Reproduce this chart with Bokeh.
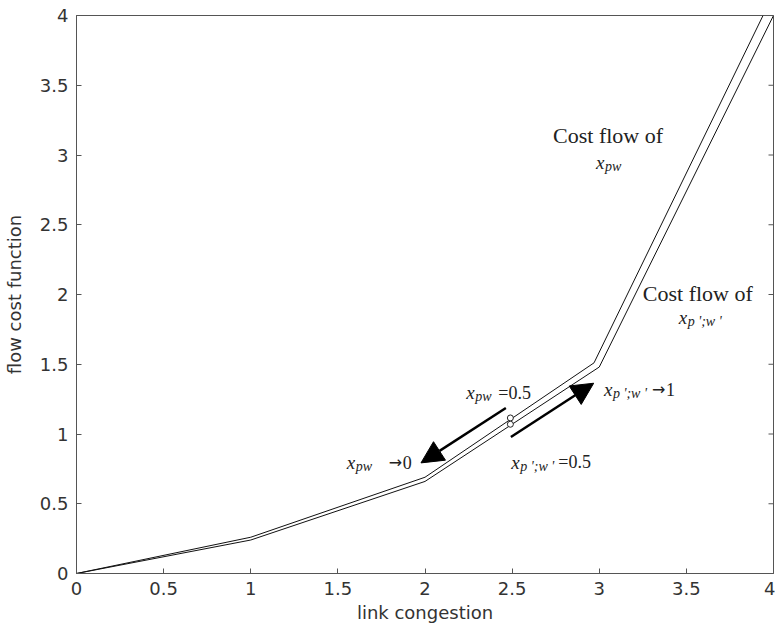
from bokeh.plotting import figure
from bokeh.models import Arrow, NormalHead, Range1d, FixedTicker
from bokeh.core.properties import value
from bokeh.embed import file_html
from bokeh.resources import INLINE

# ---- data ----
link_pw = [0, 1, 2, 2.97, 3.94]
cost_pw = [0, 0.26, 0.69, 1.51, 4.0]
link_ppww = [0, 1, 2, 3, 4]
cost_ppww = [0, 0.24, 0.66, 1.48, 4.0]
eq_link = [2.49, 2.49]
eq_cost = [1.115, 1.07]
tick_vals = [0, 0.5, 1, 1.5, 2, 2.5, 3, 3.5, 4]
tick_labels = ["0", "0.5", "1", "1.5", "2", "2.5", "3", "3.5", "4"]

# arrows (data coords)
arrow_pw = (2.464, 1.186, 1.977, 0.793)
arrow_ppww = (2.493, 0.979, 2.968, 1.364)

SERIF = "Liberation Serif"
SANS = "DejaVu Sans"
TXT = "#333333"
AX = "#555555"

p = figure(width=775, height=627, x_range=Range1d(0, 4), y_range=Range1d(0, 4),
           output_backend="svg", toolbar_location=None,
           min_border_left=74, min_border_right=2, min_border_top=15, min_border_bottom=54)
p.grid.visible = False
p.outline_line_color = AX
p.background_fill_color = "white"

for ax in (p.xaxis[0], p.yaxis[0]):
    ax.ticker = FixedTicker(ticks=tick_vals)
    ax.major_label_overrides = {v: s for v, s in zip(tick_vals, tick_labels)}
    ax.major_tick_in = 5
    ax.major_tick_out = 0
    ax.minor_tick_line_color = None
    ax.axis_line_color = AX
    ax.major_tick_line_color = AX
    ax.major_label_text_font = SANS
    ax.major_label_text_font_size = "18px"
    ax.major_label_text_color = TXT
    ax.axis_label_text_font = SANS
    ax.axis_label_text_font_size = "18px"
    ax.axis_label_text_font_style = "normal"
    ax.axis_label_text_color = TXT

p.xaxis.axis_label = "link congestion"
p.yaxis.axis_label = "flow cost function"
p.xaxis.major_label_standoff = 8
p.xaxis.axis_label_standoff = 4
p.yaxis.major_label_standoff = 8
p.yaxis.axis_label_standoff = 12

# right-hand inward ticks (box style), clipped to the frame
p.scatter(x=[tick_vals[-1]] * len(tick_vals), y=tick_vals, marker="dash", size=10,
          line_color=AX, line_width=1)

# ---- curves ----
p.line(link_pw, cost_pw, line_color="#111111", line_width=1)
p.line(link_ppww, cost_ppww, line_color="#111111", line_width=1)
p.scatter(eq_link, eq_cost, marker="circle", size=6, fill_color="white",
          line_color="#222222", line_width=1)

# ---- arrows ----
for (xs, ys, xe, ye) in (arrow_pw, arrow_ppww):
    p.add_layout(Arrow(end=NormalHead(size=22, fill_color="black", line_color="black"),
                       x_start=xs, y_start=ys, x_end=xe, y_end=ye,
                       line_width=2.5, line_color="black"))

# ---- annotations ----
def label(x, y, pieces):
    for text, font, size, style, dx, dy in pieces:
        p.text(x=[x], y=[y], text=[text], x_offset=dx, y_offset=dy,
               text_font=value(font), text_font_size=f"{size}px", text_font_style=style,
               text_color="#222222", text_align="left", text_baseline="alphabetic")

PW = "pw"
PPWW = "p ';w '"
X = ("x", SERIF, 19, "italic", 0, 0)

def sub(t):
    return (t, SERIF, 14, "italic", 9, 4)

label(2.237, 1.297, [X, sub(PW), ("=0.5", SERIF, 18, "normal", 32, 0)])
label(3.027, 1.319, [X, sub(PPWW), ("\u2192", SANS, 16, "normal", 48, 0), ("1", SERIF, 18, "normal", 62, 0)])
label(1.551, 0.796, [X, sub(PW), ("\u2192", SANS, 16, "normal", 42, 0), ("0", SERIF, 18, "normal", 56, 0)])
label(2.495, 0.796, [X, sub(PPWW), ("=0.5", SERIF, 18, "normal", 47, 0)])

label(2.735, 3.14, [("Cost flow of", SERIF, 22, "normal", 0, 0)])
label(2.981, 2.946, [X, sub(PW)])
label(3.25, 2.007, [("Cost flow of", SERIF, 22, "normal", 0, 0)])
label(3.456, 1.835, [X, sub(PPWW)])

open("out.html", "w").write(file_html(p, INLINE))
